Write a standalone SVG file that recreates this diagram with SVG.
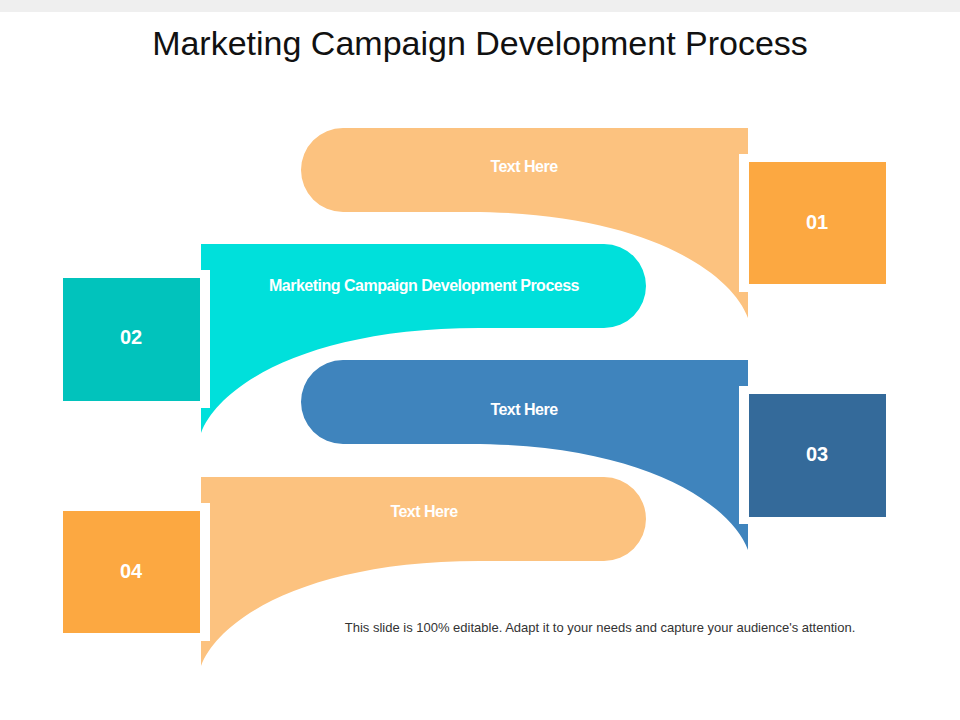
<svg xmlns="http://www.w3.org/2000/svg" width="960" height="720" viewBox="0 0 960 720">
<style>
.t{font-family:"Liberation Sans",Arial,sans-serif;fill:#fff;font-weight:bold;text-anchor:middle}
.lbl{font-size:16px;letter-spacing:-0.5px}
.num{font-size:20px}
</style>
<rect width="960" height="720" fill="#fff"/>
<rect width="960" height="12" fill="#efefef"/>
<text x="480" y="55" font-family="'Liberation Sans',Arial,sans-serif" font-size="34" text-anchor="middle" fill="#111">Marketing Campaign Development Process</text>
<g id="band1">
<path d="M343,128 L748,128 L748,318 C730,270 640,212 470,212 L343,212 A42,42 0 0 1 343,128 Z" fill="#fcc27f"/>
<rect x="739" y="154" width="10" height="138" fill="#fff"/>
<text class="t lbl" x="524" y="172">Text Here</text>
</g>
<g id="node01"><rect x="749" y="162" width="137" height="122" fill="#fca841"/><text class="t num" x="817" y="229">01</text></g>
<g id="band2">
<path d="M604,244 L201,244 L201,433 C219,385 309,328 479,328 L604,328 A42,42 0 0 0 604,244 Z" fill="#00e0db"/>
<rect x="200" y="270" width="10" height="138" fill="#fff"/>
<text class="t lbl" x="424" y="291">Marketing Campaign Development Process</text>
</g>
<g id="node02"><rect x="63" y="278" width="137" height="123" fill="#01c3bc"/><text class="t num" x="131" y="344">02</text></g>
<g id="band3">
<path d="M343,360 L748,360 L748,550 C730,502 640,444 470,444 L343,444 A42,42 0 0 1 343,360 Z" fill="#3f84bd"/>
<rect x="739" y="386" width="10" height="138" fill="#fff"/>
<text class="t lbl" x="524" y="415">Text Here</text>
</g>
<g id="node03"><rect x="749" y="394" width="137" height="123" fill="#346a9a"/><text class="t num" x="817" y="461">03</text></g>
<g id="band4">
<path d="M604,477 L201,477 L201,666 C219,618 309,561 479,561 L604,561 A42,42 0 0 0 604,477 Z" fill="#fcc27f"/>
<rect x="200" y="503" width="10" height="138" fill="#fff"/>
<text class="t lbl" x="424" y="517">Text Here</text>
</g>
<g id="node04"><rect x="63" y="511" width="137" height="122" fill="#fca841"/><text class="t num" x="131" y="578">04</text></g>
<g id="connectors"/>
<text x="600" y="632" font-family="'Liberation Sans',Arial,sans-serif" font-size="13" text-anchor="middle" fill="#333">This slide is 100% editable. Adapt it to your needs and capture your audience's attention.</text>
</svg>
